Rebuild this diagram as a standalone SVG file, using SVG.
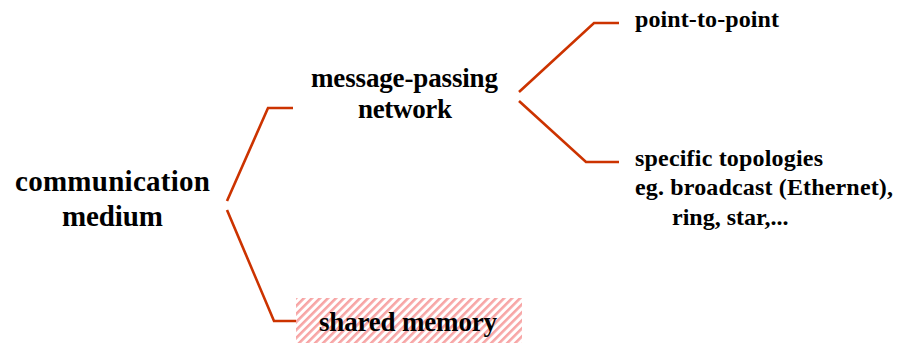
<svg xmlns="http://www.w3.org/2000/svg" width="897" height="345" viewBox="0 0 897 345">
<style>
text{font-family:"Liberation Serif","Times New Roman",serif;font-weight:bold;fill:#000}
.xl{font-size:29px}
.big{font-size:27px}
.sm{font-size:24px}
.c{stroke:#cc3300;stroke-width:2.6;fill:none}
</style>
<defs>
<pattern id="hatch" width="5.66" height="5.66" patternUnits="userSpaceOnUse" patternTransform="rotate(45)">
<rect x="0" y="0" width="2.6" height="5.66" fill="#f7a5a5"/>
</pattern>
</defs>
<rect width="897" height="345" fill="#fff"/>
<g id="connectors">
<polyline class="c" points="227,201 268,108 293,108"/>
<polyline class="c" points="227,210 274,321 296,321"/>
<polyline class="c" points="519,92 594,23 619,23"/>
<polyline class="c" points="519,101 586,162 619,162"/>
</g>
<g id="communication">
<text class="xl" x="15" y="191" textLength="195" lengthAdjust="spacing">communication</text>
<text class="xl" x="62" y="226" textLength="101" lengthAdjust="spacing">medium</text>
</g>
<g id="message-passing">
<text class="big" x="311" y="87" textLength="187" lengthAdjust="spacing">message-passing</text>
<text class="big" x="358" y="118" textLength="94" lengthAdjust="spacing">network</text>
</g>
<g id="point-to-point">
<text class="sm" x="635" y="27" textLength="144" lengthAdjust="spacing">point-to-point</text>
</g>
<g id="specific">
<text class="sm" x="635" y="166" textLength="188" lengthAdjust="spacing">specific topologies</text>
<text class="sm" x="635" y="195" textLength="258" lengthAdjust="spacing">eg. broadcast (Ethernet),</text>
<text class="sm" x="672" y="225">ring, star,...</text>
</g>
<g id="shared-memory">
<rect x="296" y="298" width="226" height="45" fill="url(#hatch)"/>
<text class="big" x="319" y="331" textLength="178" lengthAdjust="spacing">shared memory</text>
</g>
</svg>
